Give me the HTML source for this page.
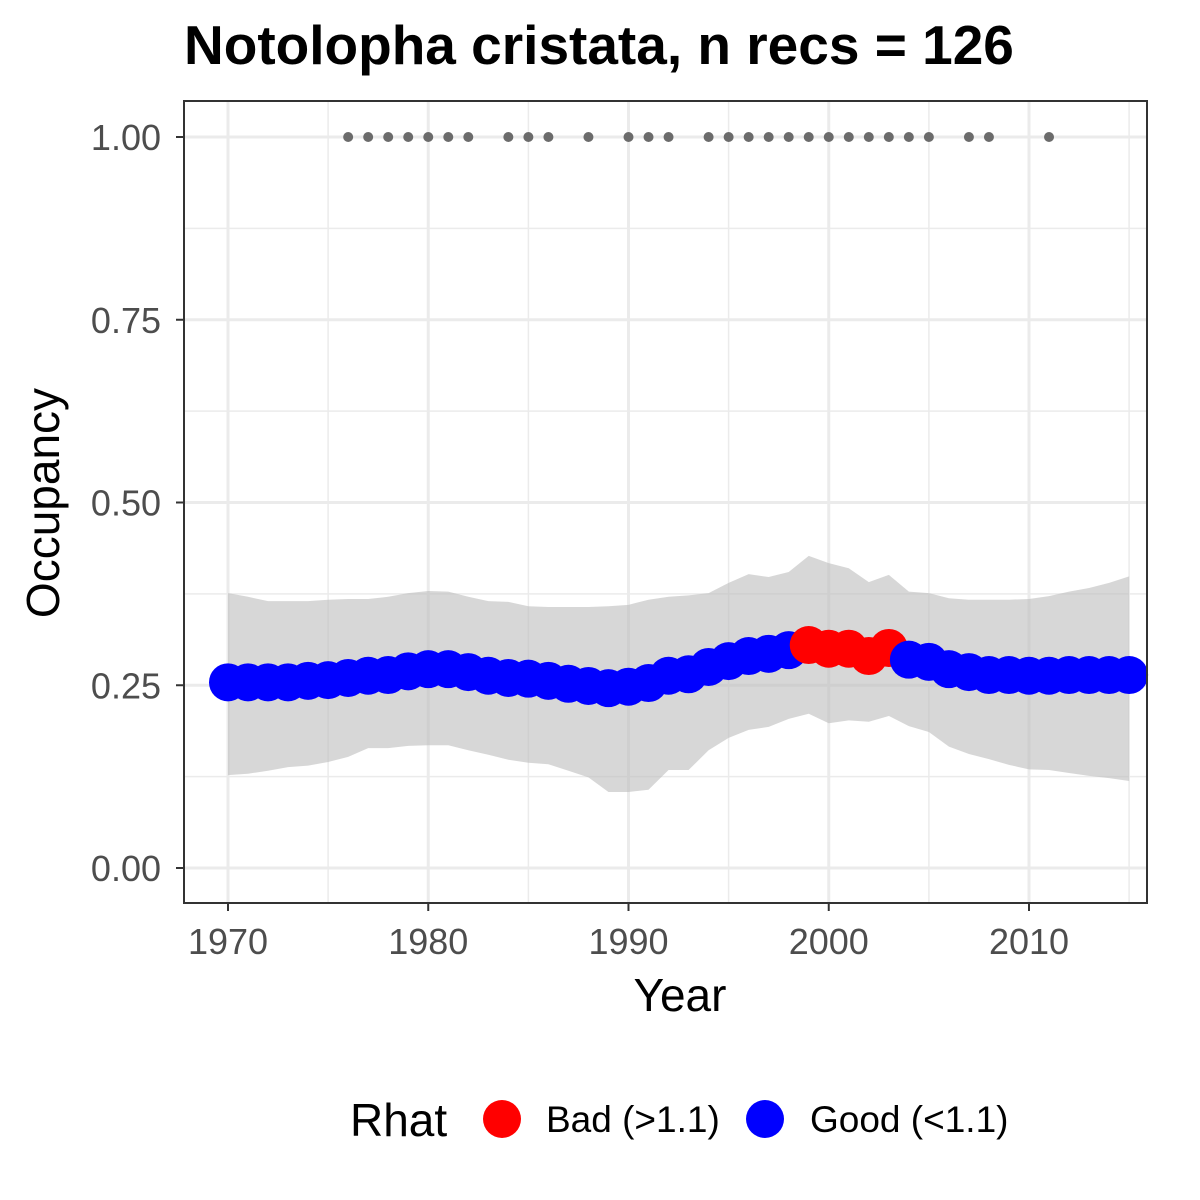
<!DOCTYPE html>
<html><head><meta charset="utf-8"><style>
body{margin:0;background:#fff}
svg{display:block;font-family:"Liberation Sans",Arial,sans-serif}
</style></head><body>
<svg id="chart" width="1200" height="1200" viewBox="0 0 1200 1200">
<rect width="1200" height="1200" fill="#fff"/>
<text x="184" y="64" font-size="55" font-weight="bold" fill="#000">Notolopha cristata, n recs = 126</text>
<g id="grid"></g>
<g id="ribbon"></g>
<g id="dets"></g>
<g id="pts"></g>
<rect x="184" y="101" width="963" height="802" fill="none" stroke="#333" stroke-width="2"/>
<g id="axes"></g>
<text x="680" y="1011" font-size="46" text-anchor="middle" fill="#000">Year</text>
<text transform="translate(59,503) rotate(-90)" font-size="46" text-anchor="middle" fill="#000">Occupancy</text>
<g>
<text x="350" y="1136" font-size="46" fill="#000">Rhat</text>
<circle cx="502" cy="1119" r="19" fill="#ff0000"/>
<text x="546" y="1132" font-size="37" fill="#000">Bad (&gt;1.1)</text>
<circle cx="765" cy="1119" r="19" fill="#0000ff"/>
<text x="810" y="1132" font-size="37" fill="#000">Good (&lt;1.1)</text>
</g>
</svg>
<script>
const years=[1970,1971,1972,1973,1974,1975,1976,1977,1978,1979,1980,1981,1982,1983,1984,1985,1986,1987,1988,1989,1990,1991,1992,1993,1994,1995,1996,1997,1998,1999,2000,2001,2002,2003,2004,2005,2006,2007,2008,2009,2010,2011,2012,2013,2014,2015];
const occupancy=[0.254,0.254,0.254,0.254,0.256,0.257,0.260,0.263,0.264,0.269,0.272,0.272,0.268,0.263,0.260,0.259,0.256,0.252,0.249,0.246,0.248,0.253,0.263,0.265,0.275,0.283,0.290,0.293,0.298,0.305,0.300,0.300,0.290,0.301,0.285,0.282,0.272,0.268,0.264,0.264,0.263,0.263,0.264,0.264,0.264,0.264];
const upper=[0.376,0.371,0.365,0.365,0.365,0.367,0.368,0.368,0.371,0.376,0.379,0.378,0.371,0.365,0.364,0.358,0.357,0.357,0.357,0.358,0.360,0.367,0.371,0.373,0.376,0.390,0.402,0.398,0.405,0.427,0.417,0.410,0.391,0.401,0.378,0.376,0.369,0.367,0.367,0.367,0.368,0.372,0.378,0.383,0.390,0.399];
const lower=[0.127,0.129,0.133,0.138,0.140,0.145,0.152,0.164,0.164,0.167,0.168,0.168,0.161,0.155,0.148,0.144,0.142,0.133,0.124,0.104,0.104,0.107,0.134,0.134,0.161,0.178,0.189,0.193,0.204,0.211,0.198,0.202,0.200,0.208,0.194,0.186,0.166,0.156,0.149,0.141,0.135,0.134,0.130,0.126,0.123,0.119];
const badYears=[1999,2000,2001,2002,2003];
const detectionYears=[1976,1977,1978,1979,1980,1981,1982,1984,1985,1986,1988,1990,1991,1992,1994,1995,1996,1997,1998,1999,2000,2001,2002,2003,2004,2005,2007,2008,2011];
const xTicks=[1970,1980,1990,2000,2010];
const xMinor=[1975,1985,1995,2005,2015];
const yTicks=[0,0.25,0.5,0.75,1];
const yTickLabels=["0.00","0.25","0.50","0.75","1.00"];
const yMinor=[0.125,0.375,0.625,0.875];

const X=v=>228+(v-1970)*20.025;
const Y=v=>868-v*731;
const NS="http://www.w3.org/2000/svg";
function mk(tag,parent,attrs){const e=document.createElementNS(NS,tag);for(const k in attrs)e.setAttribute(k,attrs[k]);document.getElementById(parent).appendChild(e);return e;}

yMinor.forEach(v=>{const l=mk('line','grid',{x1:184,x2:1147,y1:Y(v),y2:Y(v),stroke:'#ebebeb','stroke-width':1.5});

});
xMinor.forEach(v=>{const l=mk('line','grid',{x1:X(v),x2:X(v),y1:101,y2:903,stroke:'#ebebeb','stroke-width':1.5});

});
yTicks.forEach(v=>{const l=mk('line','grid',{x1:184,x2:1147,y1:Y(v),y2:Y(v),stroke:'#ebebeb','stroke-width':3});

});
xTicks.forEach(v=>{const l=mk('line','grid',{x1:X(v),x2:X(v),y1:101,y2:903,stroke:'#ebebeb','stroke-width':3});

});

let d='';
years.forEach((y,i)=>{d+=(i?'L':'M')+X(y)+','+Y(upper[i]);});
for(let i=years.length-1;i>=0;i--)d+='L'+X(years[i])+','+Y(lower[i]);
const rb=mk('path','ribbon',{d:d+'Z',fill:'#bdbdbd','fill-opacity':0.6});



detectionYears.forEach(y=>{const c=mk('circle','dets',{cx:X(y),cy:Y(1),r:5,fill:'#6b6b6b'});

});

years.forEach((y,i)=>{const bad=badYears.includes(y);
const c=mk('circle','pts',{cx:X(y),cy:Y(occupancy[i]),r:19,fill:bad?'#ff0000':'#0000ff'});

});

yTicks.forEach((v,i)=>{const t=mk('line','axes',{x1:176,x2:184,y1:Y(v),y2:Y(v),stroke:'#333','stroke-width':2});


const l=mk('text','axes',{x:161,y:Y(v)+13,'text-anchor':'end','font-size':36,fill:'#4d4d4d'});
l.textContent=yTickLabels[i];

});
xTicks.forEach(v=>{const t=mk('line','axes',{x1:X(v),x2:X(v),y1:903,y2:911,stroke:'#333','stroke-width':2});


const l=mk('text','axes',{x:X(v),y:954,'text-anchor':'middle','font-size':36,fill:'#4d4d4d'});
l.textContent=v;

});
</script>
</body></html>
